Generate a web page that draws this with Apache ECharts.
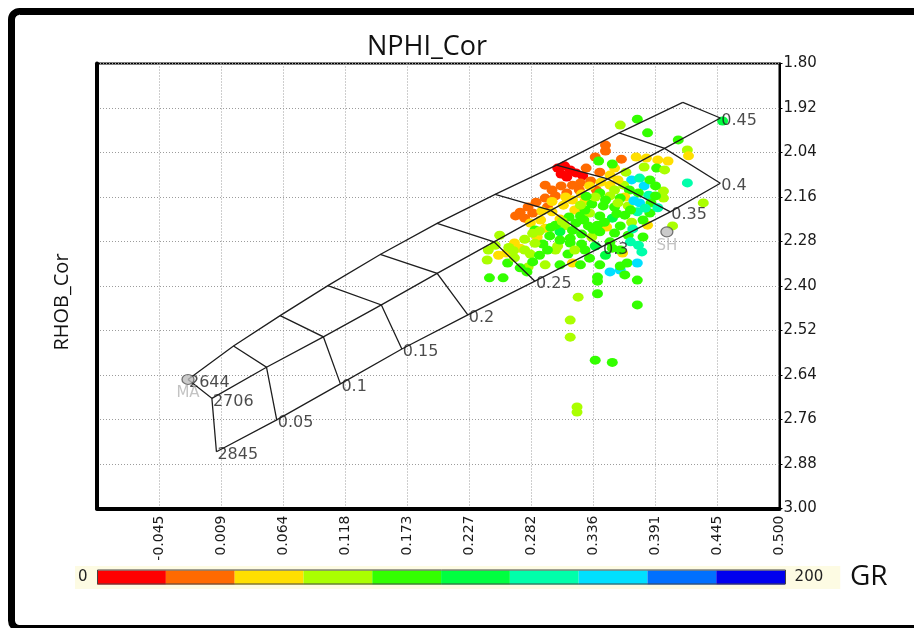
<!DOCTYPE html>
<html><head><meta charset="utf-8">
<script src="https://cdn.jsdelivr.net/npm/echarts@6/dist/echarts.min.js"></script>
<style>html,body{margin:0;padding:0;background:#fff}#c{width:914px;height:628px}</style>
</head><body><div id="c"></div>
<script>
// ---- axis tick labels ----
const xTickLabels = ['-0.045','0.009','0.064','0.118','0.173','0.227','0.282','0.336','0.391','0.445','0.500'];
const yTickLabels = ['1.80','1.92','2.04','2.16','2.28','2.40','2.52','2.64','2.76','2.88','3.00'];

// ---- GR colour scale ----
const grBreaks = [0,20,40,60,80,100,120,140,160,180,200];
const grColors = ['#ff0000','#ff6a00','#ffdf00','#aaff00','#33ff00','#00ff40','#00ffaa','#00e0ff','#0070ff','#0000ee'];

// ---- lithology overlay (sandstone / limestone / dolomite), porosity 0 .. 0.45 ----
const porosityLabels = ['0','0.05','0.1','0.15','0.2','0.25','0.3','0.35','0.4','0.45'];
const matrixLabels = ['2644','2706','2845'];
const sandNphi = [-0.020, 0.020, 0.061, 0.103, 0.149, 0.199, 0.250, 0.304, 0.359, 0.415];
const sandRhob = [2.652, 2.562, 2.480, 2.399, 2.315, 2.231, 2.153, 2.074, 1.987, 1.905];
const limeNphi = [0.001, 0.049, 0.099, 0.150, 0.199, 0.249, 0.299, 0.349, 0.399, 0.448];
const limeRhob = [2.703, 2.619, 2.537, 2.451, 2.366, 2.281, 2.196, 2.111, 2.029, 1.947];
const doloNphi = [0.005, 0.058, 0.114, 0.168, 0.226, 0.285, 0.344, 0.404, 0.448];
const doloRhob = [2.847, 2.761, 2.664, 2.570, 2.478, 2.387, 2.294, 2.200, 2.123];
const shalePoint = [0.401, 2.254];

// ---- log samples: NPHI_Cor, RHOB_Cor, GR ----
const nphi = [0.450,0.375,0.360,0.384,0.411,0.419,0.420,0.419,0.433,0.398,0.398,0.384,0.406,
0.347,0.347,0.338,0.341,0.361,0.374,0.383,0.393,0.402,0.392,0.381,0.399,0.365,0.355,0.351,0.353,0.370,0.377,0.381,0.386,0.391,0.363,0.368,0.376,0.385,0.391,
0.305,0.311,0.316,0.321,0.308,0.327,0.313,
0.330,0.334,0.325,0.318,0.308,0.300,0.294,0.303,0.294,0.286,0.279,0.272,0.268,0.276,0.283,0.296,0.313,0.342,0.339,0.324,
0.281,0.290,0.300,0.310,0.318,0.326,0.333,0.343,0.351,0.358,0.329,0.320,0.307,0.294,0.287,0.267,0.260,0.253,0.272,0.348,0.318,0.362,0.364,
0.342,0.351,0.360,0.335,0.345,0.355,0.367,0.377,0.387,0.325,0.333,0.342,0.353,0.364,0.375,0.386,0.311,0.321,0.332,0.340,0.360,0.370,0.380,
0.298,0.307,0.316,0.326,0.335,0.342,0.355,0.367,0.292,0.305,0.316,0.326,0.338,0.351,0.369,0.376,0.276,0.281,0.289,0.303,0.314,0.329,0.360,0.379,
0.261,0.279,0.283,0.307,0.366,0.375,0.278,0.340,0.351,0.360,0.360,0.364,0.245,0.257,0.340,0.375,0.340,0.323,0.375,0.316,0.316,0.338,0.353,0.322,0.322,
0.254,0.244,0.243,0.276,0.329,0.338,0.347,0.355,0.307,0.296,0.320,0.333,0.347,0.353,0.342,0.325,0.294,0.267,0.272,0.285,0.325,0.369,0.382,0.315,0.303,
0.289,0.299,0.309,0.318,0.285,0.262,0.250,0.328,0.336,0.346,0.357,0.371,0.380,0.393,0.372,0.358,0.330,0.312,0.300,0.291,0.283,0.266];
const rhob = [1.955,1.950,1.966,1.987,2.006,2.033,2.049,2.122,2.176,2.144,2.163,2.236,2.238,
2.020,2.036,2.052,2.063,2.058,2.052,2.055,2.060,2.063,2.082,2.079,2.087,2.093,2.082,2.101,2.071,2.114,2.109,2.130,2.114,2.130,2.128,2.141,2.149,2.155,2.157,
2.082,2.076,2.087,2.095,2.098,2.103,2.106,
2.082,2.117,2.122,2.128,2.130,2.141,2.128,2.157,2.163,2.174,2.187,2.201,2.211,2.217,2.203,2.187,2.149,2.093,2.141,2.141,
2.230,2.222,2.200,2.182,2.168,2.152,2.130,2.120,2.128,2.114,2.171,2.195,2.219,2.244,2.268,2.284,2.311,2.317,2.298,2.241,2.338,2.311,2.160,
2.149,2.157,2.163,2.179,2.184,2.187,2.184,2.176,2.176,2.211,2.203,2.211,2.217,2.209,2.200,2.203,2.238,2.230,2.238,2.236,2.238,2.228,2.222,
2.265,2.254,2.271,2.260,2.268,2.254,2.257,2.263,2.287,2.292,2.284,2.287,2.292,2.281,2.281,2.290,2.303,2.314,2.317,2.303,2.314,2.303,2.303,2.308,
2.338,2.349,2.335,2.343,2.338,2.338,2.362,2.376,2.362,2.357,2.346,2.370,2.378,2.378,2.387,2.384,2.421,2.430,2.451,2.492,2.538,2.600,2.606,2.726,2.740,
2.263,2.303,2.330,2.274,2.195,2.160,2.168,2.141,2.276,2.303,2.303,2.325,2.317,2.298,2.343,2.343,2.343,2.324,2.351,2.249,2.182,2.195,2.190,2.214,2.236,
2.252,2.242,2.226,2.250,2.285,2.296,2.290,2.222,2.247,2.228,2.205,2.246,2.268,2.189,2.170,2.176,2.158,2.160,2.172,2.198,2.258,2.305];
const gr = [110,90,70,90,90,70,50,130,70,70,70,50,70,
30,30,30,90,30,50,50,50,50,90,70,70,70,50,50,90,150,130,150,90,90,70,90,90,130,90,
10,10,10,10,10,10,10,
30,30,30,30,30,30,30,30,30,30,30,30,30,30,30,30,30,30,30,30,
50,50,50,50,50,50,50,50,50,50,50,50,50,50,50,50,50,50,50,50,50,50,50,
90,70,90,90,90,90,70,150,90,90,70,90,110,90,130,90,70,90,90,90,90,70,90,
90,110,90,90,70,90,90,90,90,70,90,90,110,90,130,130,70,70,90,70,90,90,90,130,
90,70,90,90,90,150,90,90,150,150,90,90,90,90,90,90,90,70,90,70,70,90,90,70,70,
70,70,70,70,90,70,90,70,90,90,70,90,110,90,90,90,70,70,90,90,70,90,130,90,90,
70,90,70,90,70,70,70,90,90,90,90,130,90,130,150,70,90,50,50,50,70,70];

// ---------- build options ----------
const X_MIN = -0.1, X_MAX = 0.5, X_STEP = (X_MAX - X_MIN) / 11;
const Y_MIN = 1.8, Y_MAX = 3.0, Y_STEP = 0.12;
const points = nphi.map((v, i) => [v, rhob[i], gr[i]]);
const pieces = grColors.map((c, i) => ({ min: grBreaks[i], max: grBreaks[i + 1], color: c }));

const zip = (a, b) => a.map((v, i) => [v, b[i]]);
const sand = zip(sandNphi, sandRhob), lime = zip(limeNphi, limeRhob), dolo = zip(doloNphi, doloRhob);
const polylines = [{ coords: sand }, { coords: lime }, { coords: dolo }];
for (let i = 0; i < sand.length; i++) {
  const c = [sand[i], lime[i]];
  if (i < dolo.length) c.push(dolo[i]);
  polylines.push({ coords: c });
}
const labelPts = [
  { value: sand[0], name: matrixLabels[0] },
  { value: lime[0], name: matrixLabels[1] },
  { value: dolo[0], name: matrixLabels[2] }
];
for (let i = 1; i < dolo.length; i++) labelPts.push({ value: dolo[i], name: porosityLabels[i] });
labelPts.push({ value: lime[lime.length - 1], name: porosityLabels[porosityLabels.length - 1] });

const dotted = { show: true, lineStyle: { color: '#9c9c9c', type: [1, 2], width: 1 } };
const FONT = 'DejaVu Sans';

const option = {
  animation: false,
  backgroundColor: '#ffffff',
  title: {
    text: 'NPHI_Cor', left: 422, top: 29, textAlign: 'center',
    textStyle: { fontFamily: 'Open Sans', fontSize: 27, fontWeight: 'normal', color: '#111' }
  },
  grid: { left: 97, top: 63.5, width: 682.5, height: 445, show: true, borderColor: '#000', borderWidth: 2, containLabel: false },
  xAxis: [{
    type: 'value', min: X_MIN, max: X_MAX, interval: X_STEP, position: 'bottom',
    axisLine: { show: true, onZero: false, lineStyle: { color: '#000', width: 4 } },
    axisTick: { show: false },
    axisLabel: {
      rotate: 90, margin: 7, fontFamily: FONT, fontSize: 14, color: '#1a1a1a',
      formatter: v => { const k = Math.round((v - X_MIN) / X_STEP); return k <= 0 ? '' : xTickLabels[k - 1]; }
    },
    splitLine: dotted
  }],
  yAxis: [{
    type: 'value', position: 'right', inverse: true, min: Y_MIN, max: Y_MAX, interval: Y_STEP,
    axisLine: { show: true, onZero: false, lineStyle: { color: '#000', width: 2 } },
    axisTick: { show: true, length: 3, lineStyle: { color: '#000' } },
    axisLabel: {
      margin: 4, fontFamily: FONT, fontSize: 15, color: '#1a1a1a',
      formatter: v => yTickLabels[Math.round((v - Y_MIN) / Y_STEP)]
    },
    splitLine: dotted
  }, {
    type: 'value', position: 'left', inverse: true, min: Y_MIN, max: Y_MAX,
    axisLine: { show: true, onZero: false, lineStyle: { color: '#000', width: 4 } },
    axisTick: { show: false }, axisLabel: { show: false }, splitLine: { show: false }
  }],
  visualMap: {
    type: 'piecewise', seriesIndex: 0, dimension: 2, pieces: pieces,
    orient: 'horizontal', left: 75, top: 566,
    itemWidth: 68.8, itemHeight: 14, itemGap: 0, itemSymbol: 'rect',
    text: ['  200', '0  '], selectedMode: false, hoverLink: false,
    textStyle: { fontFamily: FONT, fontSize: 15, color: '#222' },
    backgroundColor: '#fdfbe3', padding: [4, 17, 4, 3]
  },
  series: [{
    type: 'scatter', name: 'GR', data: points, symbol: 'circle', symbolSize: [11, 9], z: 2,
    itemStyle: { opacity: 1 }, silent: true
  }, {
    type: 'lines', coordinateSystem: 'cartesian2d', polyline: true, data: polylines, z: 4, silent: true,
    lineStyle: { color: '#1e1e1e', width: 1.3, opacity: 1 }
  }, {
    type: 'scatter', data: labelPts, symbolSize: 0, z: 5, silent: true,
    label: { show: true, position: 'right', distance: 1, offset: [0, 3], formatter: '{b}', fontFamily: FONT, fontSize: 16, color: '#1e1e1e' }
  }, {
    type: 'scatter', data: [{ value: sand[0], name: 'MA' }, { value: shalePoint, name: 'SH' }],
    symbol: 'circle', symbolSize: [12, 10], z: 6, silent: true,
    itemStyle: { color: '#bdbdbd', borderColor: '#555', borderWidth: 1.2 },
    label: { show: true, position: 'bottom', distance: 1, formatter: '{b}', fontFamily: FONT, fontSize: 15, color: '#b4b4b4' }
  }],
  graphic: [
    { type: 'rect', silent: true, z: 100, shape: { x: 11.5, y: 11.5, width: 920, height: 617, r: 8 }, style: { fill: null, stroke: '#000', lineWidth: 7 } },
    { type: 'rect', silent: true, z: 100, shape: { x: 97.5, y: 570, width: 688, height: 14 }, style: { fill: null, stroke: '#444', lineWidth: 1 } },
    { type: 'text', silent: true, x: 62, y: 302, rotation: Math.PI / 2, style: { text: 'RHOB_Cor', fontFamily: 'Open Sans', fontSize: 20, fill: '#111', align: 'center', verticalAlign: 'middle' } },
    { type: 'text', silent: true, x: 850, y: 577, style: { text: 'GR', fontFamily: 'Open Sans', fontSize: 28, fill: '#111', align: 'left', verticalAlign: 'middle' } }
  ]
};
const chart = echarts.init(document.getElementById('c'));
chart.setOption(option);
</script></body></html>
